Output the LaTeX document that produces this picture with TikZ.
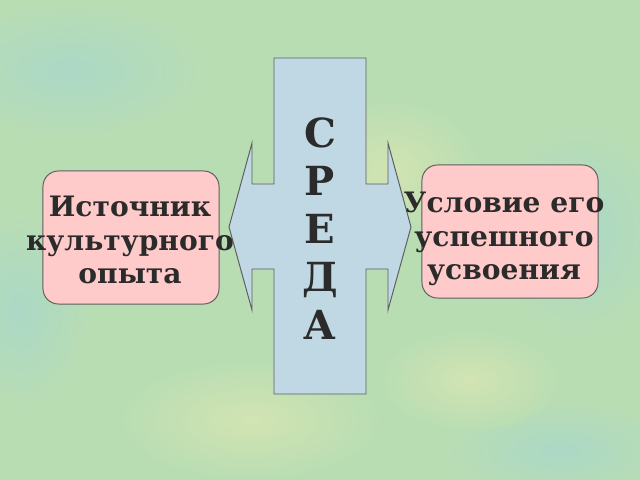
\documentclass[tikz,border=0pt]{standalone}
\usepackage{fontspec}
\setmainfont{DejaVu Serif}
\definecolor{bgbase}{HTML}{B9DDB3}
\definecolor{bgteal}{HTML}{ABD8C6}
\definecolor{bgyellow}{HTML}{D2E4B2}
\definecolor{crossblue}{HTML}{C0D8E4}
\definecolor{boxpink}{HTML}{FFCACA}
\definecolor{edgegray}{HTML}{5E5E5E}
\definecolor{inkgray}{HTML}{2B2B2B}
\begin{document}
\begin{tikzpicture}[x=0.025cm,y=-0.025cm,
    blob/.style={inner color=#1,outer color=bgbase},
    infobox/.style={draw=edgegray,line width=0.7pt,fill=boxpink,rounded corners=11pt,
      minimum width=4.4cm,minimum height=3.325cm,inner sep=0pt},
    boxtext/.style={text=inkgray,font=\fontsize{20}{23.8}\selectfont\bfseries,align=center},
    letter/.style={text=inkgray,font=\fontsize{28.5}{30}\selectfont\bfseries,anchor=base}]
  \useasboundingbox (0,0) rectangle (640,480);

  % background
  \fill[bgbase] (0,0) rectangle (640,480);
  \shade[blob=bgteal] (70,70) ellipse (140 and 70);
  \shade[blob=bgteal] (580,230) ellipse (90 and 110);
  \shade[blob=bgteal] (560,450) ellipse (120 and 50);
  \shade[blob=bgteal] (20,310) ellipse (70 and 100);
  \shade[blob=bgyellow] (390,170) ellipse (90 and 70);
  \shade[blob=bgyellow] (250,420) ellipse (130 and 60);
  \shade[blob=bgyellow] (470,380) ellipse (90 and 50);

  % cross
  \draw[edgegray,line width=0.7pt,fill=crossblue]
    (274,58) -- (366,58) -- (366,184) -- (388,184) -- (388,143) -- (411,227)
    -- (388,310) -- (388,269) -- (366,269) -- (366,394) -- (274,394) -- (274,269)
    -- (252,269) -- (252,310) -- (229,227) -- (252,143) -- (252,184) -- (274,184) -- cycle;
  \foreach \l [count=\i] in {С,Р,Е,Д,А}
    \node[letter] (sreda\i) at (320,147+48*\i-48) {\l};

  % boxes
  \node[infobox] (source) at (131,237.5) {};
  \node[infobox] (cond) at (510,231.5) {};
  \node[boxtext] (sourcetext) at (130,240) {Источник\\культурного\\опыта};
  \node[boxtext] (condtext) at (504,239) {Условие его\\успешного\\усвоения};
\end{tikzpicture}
\end{document}
